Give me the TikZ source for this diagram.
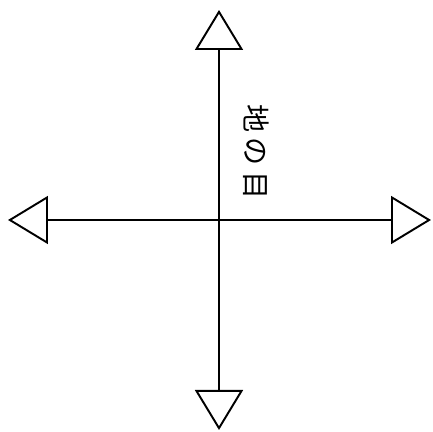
\documentclass[tikz,border=0pt]{standalone}
\usepackage{fontspec}
\newfontfamily\cjk{Noto Sans CJK JP}
\usetikzlibrary{arrows.meta}
\begin{document}
\begin{tikzpicture}[
  grain/.style={line width=1.1pt, -{Triangle[open, length=0.8cm, width=0.96cm, line width=1.1pt]}}]
  \useasboundingbox (-4.38,-4.24) rectangle (4.28,4.40);
  % center and arrow ends
  \coordinate (origin) at (0, 0);
  \coordinate (up) at (0, 4.2);
  \coordinate (down) at (0, -4.2);
  \coordinate (left) at (-4.22, 0);
  \coordinate (right) at (4.24, 0);

  \draw[grain] (origin) -- (up);
  \draw[grain] (origin) -- (down);
  \draw[grain] (origin) -- (left);
  \draw[grain] (origin) -- (right);

  % label along the vertical arrow
  \node[rotate=-90, font=\cjk\fontsize{16pt}{18pt}\selectfont] (label) at (0.74, 1.36) {地\hspace{0.1cm}の\hspace{0.1cm}目};
\end{tikzpicture}
\end{document}
